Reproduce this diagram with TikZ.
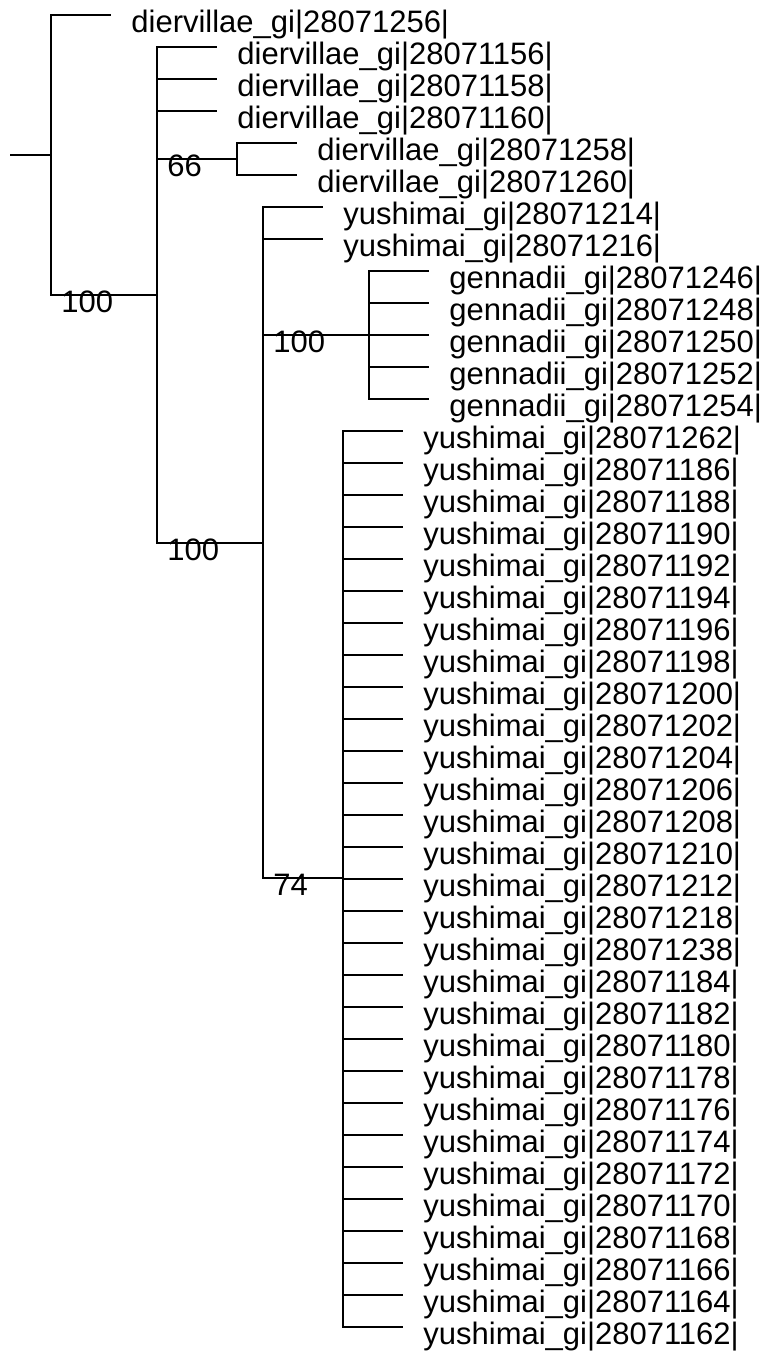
\documentclass[tikz,border=0pt]{standalone}
\usepackage{fontspec}
\setmainfont{Liberation Sans}
\tikzset{
  branch/.style={line width=1pt},
  leaf/.style={anchor=base west, inner sep=0pt, xshift=10pt, yshift=-8.75pt, font=\fontsize{15.5}{15.5}\selectfont},
  support/.style={anchor=base west, inner sep=0pt, xshift=5pt, yshift=-8.5pt, font=\fontsize{15.5}{15.5}\selectfont}
}

\begin{document}
\begin{tikzpicture}[x=0.5pt, y=-0.5pt]
  \useasboundingbox (0,0) rectangle (770,1351);
  % Internal nodes
  \coordinate (base) at (10,155);
  \coordinate (root) at (51,155);
  \coordinate (n1) at (157,295);
  \coordinate (n66) at (237,159);
  \coordinate (n3) at (263,543);
  \coordinate (ngen) at (369,335);
  \coordinate (n74) at (343,878);
  % Backbone
  \draw[branch] (base) -- (root);
  \draw[branch] (root) |- (n1);
  \draw[branch] (n1) |- (n66);
  \draw[branch] (n1) |- (n3);
  \draw[branch] (n3) |- (ngen);
  \draw[branch] (n3) |- (n74);
  % Support values
  \node[support] (s1) at (root |- n1) {100};
  \node[support] (s66) at (n1 |- n66) {66};
  \node[support] (s3) at (n1 |- n3) {100};
  \node[support] (sgen) at (n3 |- ngen) {100};
  \node[support] (s74) at (n3 |- n74) {74};
  % Diervillae leaves
  \coordinate (t1256) at (111,15);
  \draw[branch] (root) |- (t1256);
  \node[leaf] (l1256) at (t1256) {diervillae\_gi|28071256|};
  \foreach \id [count=\i from 0] in {156,158,160} {
    \coordinate (t\id) at (217,{47+32*\i});
    \draw[branch] (n1) |- (t\id);
    \node[leaf] (l\id) at (t\id) {diervillae\_gi|28071\id|};
  }
  \foreach \id [count=\i from 0] in {258,260} {
    \coordinate (t\id) at (297,{143+32*\i});
    \draw[branch] (n66) |- (t\id);
    \node[leaf] (l\id) at (t\id) {diervillae\_gi|28071\id|};
  }
  % Yushimai pair
  \foreach \id [count=\i from 0] in {214,216} {
    \coordinate (t\id) at (323,{207+32*\i});
    \draw[branch] (n3) |- (t\id);
    \node[leaf] (l\id) at (t\id) {yushimai\_gi|28071\id|};
  }
  % Gennadii clade
  \foreach \id [count=\i from 0] in {246,248,250,252,254} {
    \coordinate (t\id) at (429,{271+32*\i});
    \draw[branch] (ngen) |- (t\id);
    \node[leaf] (l\id) at (t\id) {gennadii\_gi|28071\id|};
  }
  % Yushimai clade
  \foreach \id [count=\i from 0] in {262,186,188,190,192,194,196,198,200,202,204,206,208,210,212,218,238,184,182,180,178,176,174,172,170,168,166,164,162} {
    \coordinate (t\id) at (403,{431+32*\i});
    \draw[branch] (n74) |- (t\id);
    \node[leaf] (l\id) at (t\id) {yushimai\_gi|28071\id|};
  }
\end{tikzpicture}
\end{document}
